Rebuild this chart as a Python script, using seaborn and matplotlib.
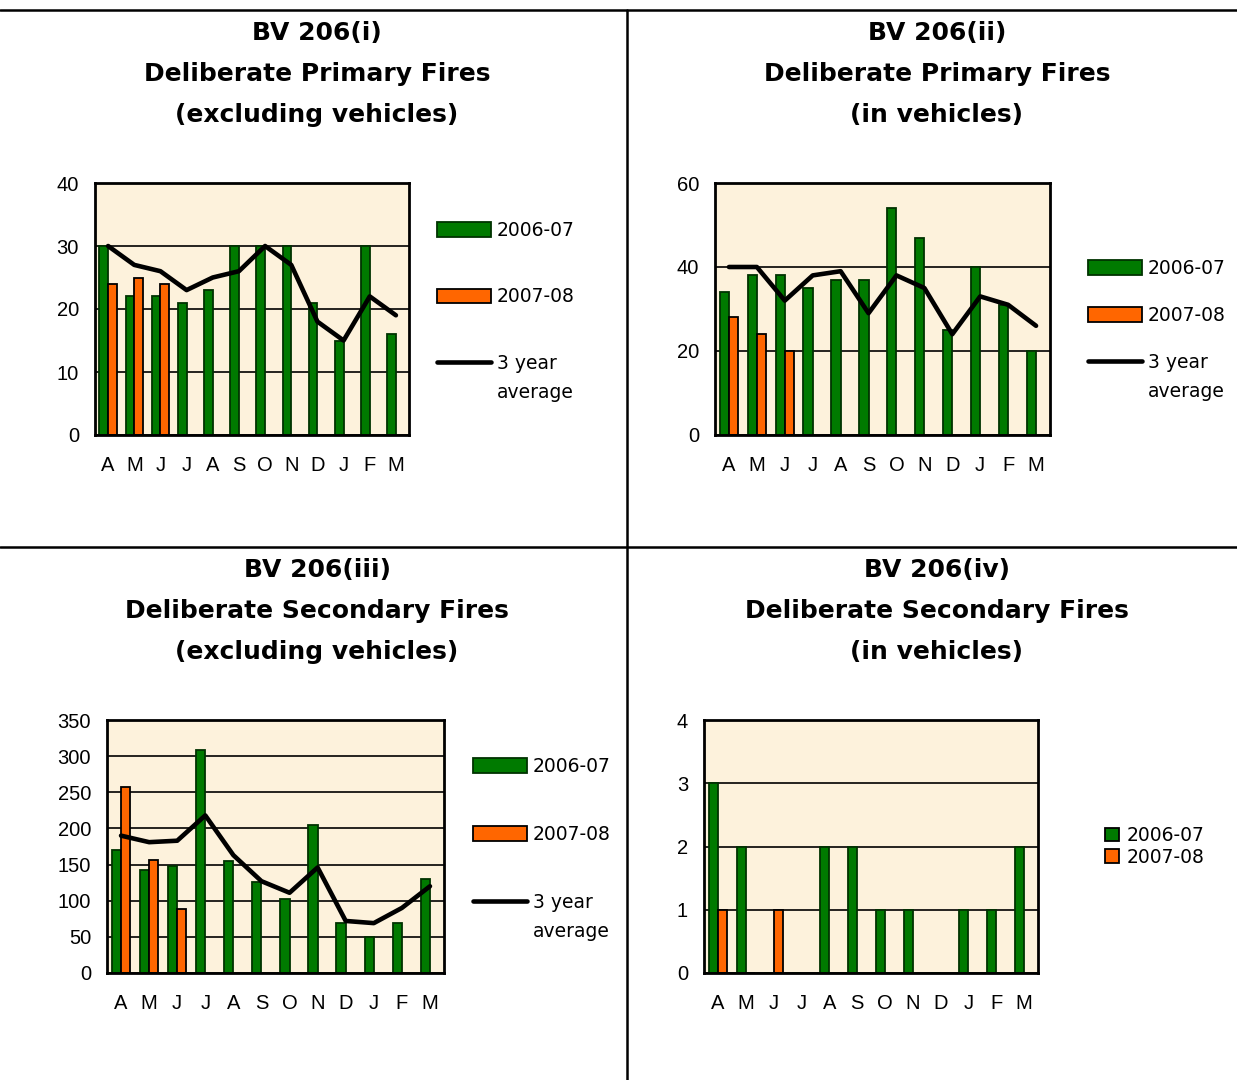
import numpy as np
import pandas as pd
import matplotlib
matplotlib.use("Agg")
import matplotlib.pyplot as plt
from matplotlib.patches import Patch
from matplotlib.lines import Line2D
import seaborn as sns

# ---------------- data ----------------
months = ["Apr", "May", "Jun", "Jul", "Aug", "Sep", "Oct", "Nov", "Dec", "Jan", "Feb", "Mar"]
month_letters = ["A", "M", "J", "J", "A", "S", "O", "N", "D", "J", "F", "M"]
seasons = ["2006-07", "2007-08"]

# BV 206(i) deliberate primary fires (excluding vehicles)
p_excl_0607 = [30, 22, 22, 21, 23, 30, 30, 30, 21, 15, 30, 16]
p_excl_0708 = [24, 25, 24]
p_excl_avg = [30, 27, 26, 23, 25, 26, 30, 27, 18, 15, 22, 19]

# BV 206(ii) deliberate primary fires (in vehicles)
p_veh_0607 = [34, 38, 38, 35, 37, 37, 54, 47, 25, 40, 31, 20]
p_veh_0708 = [28, 24, 20]
p_veh_avg = [40, 40, 32, 38, 39, 29, 38, 35, 24, 33, 31, 26]

# BV 206(iii) deliberate secondary fires (excluding vehicles)
s_excl_0607 = [170, 142, 148, 308, 155, 126, 103, 205, 69, 50, 69, 130]
s_excl_0708 = [258, 156, 89]
s_excl_avg = [190, 181, 183, 218, 163, 127, 111, 146, 72, 69, 90, 120]

# BV 206(iv) deliberate secondary fires (in vehicles)
s_veh_0607 = [3, 2, 0, 0, 2, 2, 1, 1, 0, 1, 1, 2]
s_veh_0708 = [1, 0, 1]

# ---------------- style ----------------
W, H = 1237, 1080
GREEN = "#007A00"
GREEN_EDGE = "#003300"
ORANGE = "#FF6600"
PANEL_BG = "#FDF2DC"
TICK_FONT = ["Liberation Sans", "DejaVu Sans"]
TEXT_FONT = ["DejaVu Sans"]
TICK_SIZE = 14.5
LEG_SIZE = 13.5

sns.set_style("white")
plt.rcParams["font.family"] = ["DejaVu Sans"]
plt.rcParams["text.color"] = "black"
plt.rcParams["xtick.color"] = "black"
plt.rcParams["ytick.color"] = "black"
plt.rcParams["axes.labelcolor"] = "black"

fig = plt.figure(figsize=(W / 100, H / 100), dpi=100)
fig.patch.set_facecolor("white")


def px_rect(x0, y0, x1, y1):
    return [x0 / W, 1 - y1 / H, (x1 - x0) / W, (y1 - y0) / H]


def long_frame(first, second):
    rows = []
    for m, v in zip(months, first):
        rows.append({"month": m, "season": seasons[0], "value": v})
    for m, v in zip(months, second):
        rows.append({"month": m, "season": seasons[1], "value": v})
    return pd.DataFrame(rows)


def draw_panel(rect, first, second, avg, ymax, ystep):
    ax = fig.add_axes(px_rect(*rect))
    df = long_frame(first, second)
    sns.barplot(data=df, x="month", y="value", hue="season",
                order=months, hue_order=seasons,
                palette={seasons[0]: GREEN, seasons[1]: ORANGE},
                saturation=1, width=0.66, dodge=True, errorbar=None,
                legend=False, linewidth=1.3, ax=ax)
    for bar in ax.containers[0]:
        bar.set_edgecolor(GREEN_EDGE)
    for bar in ax.containers[1]:
        bar.set_edgecolor("black")
    if avg is not None:
        sns.lineplot(x=np.arange(len(months)), y=avg, color="black",
                     linewidth=3.3, ax=ax)
    ax.set_facecolor(PANEL_BG)
    ax.set_xlim(-0.5, len(months) - 0.5)
    ax.set_ylim(0, ymax)
    ax.set_yticks(np.arange(0, ymax + ystep / 2, ystep))
    ax.yaxis.grid(True, color="black", linewidth=1.2)
    ax.set_axisbelow(True)
    # boundary tick marks, letters centred under each month
    ax.set_xticks(np.arange(-0.5, len(months)), labels=[""] * (len(months) + 1))
    ax.set_xticks(np.arange(len(months)), minor=True)
    ax.set_xticklabels(month_letters, minor=True, fontfamily=TICK_FONT,
                       fontsize=TICK_SIZE)
    ax.tick_params(axis="x", which="major", direction="out", length=6,
                   width=1.6, color="black")
    ax.tick_params(axis="x", which="minor", length=0, pad=15)
    ax.tick_params(axis="y", direction="out", length=5, width=1.6,
                   color="black", pad=6.5, labelsize=TICK_SIZE)
    for lab in ax.get_yticklabels():
        lab.set_fontfamily(TICK_FONT)
    for s in ax.spines.values():
        s.set_visible(True)
        s.set_color("black")
        s.set_linewidth(2.0)
    ax.set_xlabel("")
    ax.set_ylabel("")
    return ax


def wide_legend(ax, anchor_px, spacing_px):
    fpx = LEG_SIZE * 100 / 72
    handles = [Patch(facecolor=GREEN, edgecolor=GREEN_EDGE, linewidth=1.3),
               Patch(facecolor=ORANGE, edgecolor="black", linewidth=1.3),
               Line2D([], [], color="black", linewidth=3.3)]
    return ax.legend(handles, ["2006-07", "2007-08", "3 year"],
                     loc="upper left",
                     bbox_to_anchor=(anchor_px[0] / W, 1 - anchor_px[1] / H),
                     bbox_transform=fig.transFigure,
                     frameon=False, borderpad=0, borderaxespad=0,
                     handlelength=54 / fpx, handleheight=15 / fpx,
                     handletextpad=6 / fpx,
                     labelspacing=(spacing_px - 19) / fpx,
                     prop={"family": TEXT_FONT, "size": LEG_SIZE})


def panel_title(xc, y_lines, lines):
    for y, t in zip(y_lines, lines):
        fig.text(xc / W, 1 - y / H, t, ha="center", va="center",
                 fontsize=18, fontweight="bold", fontfamily=TEXT_FONT)


# ---------------- panels ----------------
ax1 = draw_panel((95, 183, 409, 435), p_excl_0607, p_excl_0708, p_excl_avg, 40, 10)
leg1 = wide_legend(ax1, (437, 221), 66.5)
panel_title(317, (33, 74, 115),
            ["BV 206(i)", "Deliberate Primary Fires", "(excluding vehicles)"])

ax2 = draw_panel((715, 183, 1050, 435), p_veh_0607, p_veh_0708, p_veh_avg, 60, 20)
leg2 = wide_legend(ax2, (1088, 259), 47)
panel_title(937, (33, 74, 115),
            ["BV 206(ii)", "Deliberate Primary Fires", "(in vehicles)"])

ax3 = draw_panel((107, 720, 444, 973), s_excl_0607, s_excl_0708, s_excl_avg, 350, 50)
leg3 = wide_legend(ax3, (473, 757), 68)
panel_title(317, (570, 611, 652),
            ["BV 206(iii)", "Deliberate Secondary Fires", "(excluding vehicles)"])

ax4 = draw_panel((704, 720, 1038, 973), s_veh_0607, s_veh_0708, None, 4, 1)
fpx4 = LEG_SIZE * 100 / 72
ax4.legend([Patch(facecolor=GREEN, edgecolor="black", linewidth=1.3),
            Patch(facecolor=ORANGE, edgecolor="black", linewidth=1.3)],
           seasons, loc="upper left",
           bbox_to_anchor=(1105 / W, 1 - 826 / H),
           bbox_transform=fig.transFigure,
           frameon=False, borderpad=0, borderaxespad=0,
           handlelength=14 / fpx4, handleheight=14 / fpx4,
           handletextpad=8 / fpx4, labelspacing=0.14,
           prop={"family": ["DejaVu Sans"], "size": LEG_SIZE})
panel_title(937, (570, 611, 652),
            ["BV 206(iv)", "Deliberate Secondary Fires", "(in vehicles)"])

# second line of the "3 year average" legend label, set under its first line
fig.canvas.draw()
inv = fig.transFigure.inverted()
for leg in (leg1, leg2, leg3):
    bb = leg.get_texts()[2].get_window_extent()
    fx, fy = inv.transform((bb.x0, (bb.y0 + bb.y1) / 2 - 29))
    fig.text(fx, fy, "average", ha="left", va="center",
             fontsize=LEG_SIZE, fontfamily=TEXT_FONT)

# page heading sitting above the top rule
fig.text(695 / W, 1 + 9 / H, "BV 206 ANALYSIS", ha="center", va="center",
         fontsize=22, fontweight="bold", color=ORANGE, fontfamily=TEXT_FONT)

# dividing rules between the four panels
rule = dict(color="black", linewidth=1.8, transform=fig.transFigure)
fig.add_artist(Line2D([0, 1], [1 - 10 / H, 1 - 10 / H], **rule))
fig.add_artist(Line2D([0, 1], [1 - 547 / H, 1 - 547 / H], **rule))
fig.add_artist(Line2D([627 / W, 627 / W], [0, 1 - 10 / H], **rule))

fig.savefig("out.png", dpi=100, facecolor="white")
